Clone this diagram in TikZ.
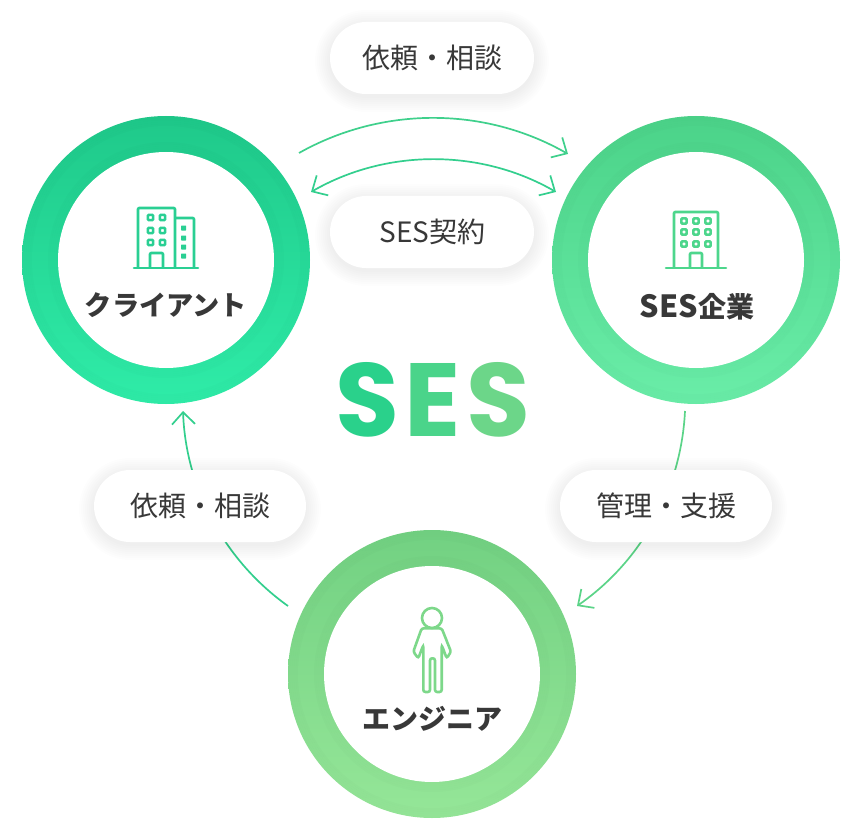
\documentclass[tikz,border=0pt]{standalone}
\usepackage{fontspec}
\usetikzlibrary{arrows.meta,calc,fadings}
\newfontfamily\jp{Noto Sans CJK JP}
\newfontfamily\bigltn{Poppins}
\definecolor{txt}{HTML}{383838}
\definecolor{cA}{HTML}{2ACF93}
\definecolor{cB}{HTML}{4DD68C}
\definecolor{cC}{HTML}{7DD88A}
\definecolor{arcA}{HTML}{3FD08C}
\definecolor{arcB}{HTML}{33CF8E}
\definecolor{arcC}{HTML}{5BD488}
\definecolor{topA}{HTML}{1FC98A}
\definecolor{botA}{HTML}{2FECA8}
\definecolor{topB}{HTML}{4BD389}
\definecolor{botB}{HTML}{6AEDA8}
\definecolor{topC}{HTML}{72D182}
\definecolor{botC}{HTML}{95E698}
\definecolor{S1}{HTML}{2AD18B}
\definecolor{S2}{HTML}{4AD48A}
\definecolor{S3}{HTML}{6CD689}
\definecolor{gradL}{HTML}{1ECE88}
\definecolor{gradR}{HTML}{82D888}
\tikzset{
  ringnode/.style={circle,inner sep=0pt,minimum size=288pt},
  hole/.style={circle,fill=white,inner sep=0pt,minimum size=216pt},
  pill/.style={rounded corners=36pt,fill=white,inner sep=0pt,minimum width=#1,minimum height=72pt,text=txt,font=\jp\fontsize{28}{32}\selectfont},
  title/.style={text=txt,font=\jp\bfseries\fontsize{28}{32}\selectfont,inner sep=0pt},
  flow/.style={line width=1.7pt,-{Straight Barb[length=12pt,width=23pt,line width=1.7pt]}},
  both/.style={line width=1.7pt,{Straight Barb[length=12pt,width=23pt,line width=1.7pt]}-{Straight Barb[length=12pt,width=23pt,line width=1.7pt]}},
  iconline/.style={line width=2.6pt,rounded corners=1pt,line join=round},
  bigfont/.style={inner sep=0pt,font=\bigltn\bfseries\fontsize{104}{110}\selectfont},
}
\newcommand{\sesword}[3]{\textcolor{#1}{S}\kern5.5pt\textcolor{#2}{E}\kern5.5pt\textcolor{#3}{S}}
\begin{tikzfadingfrompicture}[name=sesfade]
  \node[bigfont,text=transparent!0] {\sesword{transparent!0}{transparent!0}{transparent!0}};
\end{tikzfadingfrompicture}
\newcommand{\pillglow}[3]{%
  \foreach \d in {1,3,...,15}{
    \fill[black,opacity=0.006,rounded corners={36pt+\d pt}]
      ($(#1,#2)+(-#3/2-\d,-36-\d+3)$) rectangle ($(#1,#2)+(#3/2+\d,36+\d+3)$);
  }}
\newcommand{\ringedge}[1]{%
  \foreach \d in {0,2,4,6,8}{
    \draw[black,opacity=0.012,line width=2pt] (#1) circle[radius=143pt-\d pt];
    \draw[black,opacity=0.012,line width=2pt] (#1) circle[radius=109pt+\d pt];
  }}
\newcommand{\winbox}[3]{\draw[#3,line width=2.6pt,rounded corners=1pt] (#1-2.6,#2-2.6) rectangle (#1+2.6,#2+2.6);}
\begin{document}
\begin{tikzpicture}[x=1pt,y=-1pt]
\useasboundingbox (0,0) rectangle (860,840);
\fill[white] (0,0) rectangle (860,840);

% rings
\node[ringnode,top color=topA,bottom color=botA] (client) at (166,260) {};
\node[ringnode,top color=topB,bottom color=botB] (ses) at (696,260) {};
\node[ringnode,top color=topC,bottom color=botC] (eng) at (432,674) {};
\ringedge{client}\ringedge{ses}\ringedge{eng}
\node[hole] (clienthole) at (166,260) {};
\node[hole] (seshole) at (696,260) {};
\node[hole] (enghole) at (432,674) {};

% connector ends
\coordinate (a1) at (299,153);
\coordinate (a2) at (568,154);
\coordinate (b1) at (311,192);
\coordinate (b2) at (556,192);
\coordinate (c1) at (685,411);
\coordinate (c2) at (577,606);
\coordinate (d1) at (288,606);
\coordinate (d2) at (183,411);

\draw[flow,arcA] (a1) to[bend left=29.6,looseness=.91] (a2);
\draw[both,arcB] (b1) to[bend left=30,looseness=.91] (b2);
\draw[flow,arcC] (c1) to[bend left=26.2,looseness=.9] (c2);
\draw[flow,arcB] (d1) to[bend left=26.2,looseness=.9] (d2);

% pills
\pillglow{432}{58}{204}
\pillglow{432}{232}{204}
\pillglow{200}{506}{212}
\pillglow{666}{506}{212}
\node[pill=204pt] (p1) at (432,58) {\raisebox{-1.5pt}{依頼・相談}};
\node[pill=204pt] (p2) at (432,232) {\raisebox{-1pt}{\hspace{1.5pt}SES契約}};
\node[pill=212pt] (p3) at (200,506) {\raisebox{-1.5pt}{依頼・相談}};
\node[pill=212pt] (p4) at (666,506) {\raisebox{-1.5pt}{管理・支援}};

% labels
\node[title,font=\jp\bfseries\fontsize{27.2}{32}\selectfont] (t1) at (166,305) {クライアント};
\node[title] (t2) at (697,306.5) {{\fontsize{30.5}{32}\selectfont SES}企業};
\node[title] (t3) at (432,719) {エンジニア};
\node[bigfont] (big) at (433,400) {\sesword{S1}{S2}{S3}};
\path[path fading=sesfade,fit fading=false,left color=gradL,right color=gradR] (big.south west) rectangle (big.north east);

% client icon
\begin{scope}[cA]
\draw[iconline] (138,268) -- (138,208) -- (175,208) -- (175,268);
\draw[iconline] (175,218) -- (194,218) -- (194,268);
\draw[line width=2.6pt,line cap=round] (134,268) -- (198,268);
\foreach \x in {150.5,162.5}\foreach \y in {217.5,230.5,242.5}{\winbox{\x}{\y}{cA}}
\draw[iconline] (150,268) -- (150,253) -- (163,253) -- (163,268);
\foreach \y in {228,238,247,256}{\fill[cA,rounded corners=.5pt] (181,\y-2.5) rectangle (186,\y+2.5);}
\end{scope}

% company icon
\begin{scope}[cB]
\draw[iconline] (674,268) -- (674,212) -- (718,212) -- (718,268);
\draw[line width=2.6pt,line cap=round] (666,268) -- (726,268);
\foreach \x in {684,696,708}\foreach \y in {221,232,244}{\winbox{\x}{\y}{cB}}
\draw[iconline] (690,268) -- (690,253) -- (702,253) -- (702,268);
\end{scope}

% person icon
\draw[cC,line width=2.6pt] (432,618) circle[radius=10pt];
\draw[cC,line width=2.6pt,rounded corners=2.2pt] (421.7,628.3) -- (413.3,651.7) -- (418.3,658.3) -- (423.3,645) -- (423.3,692) -- (430,692) -- (430,658.3) -- (435,658.3) -- (435,692) -- (441.7,692) -- (441.7,645) -- (446.7,658.3) -- (451,651.7) -- (441.7,628.3) -- cycle;
\end{tikzpicture}
\end{document}
